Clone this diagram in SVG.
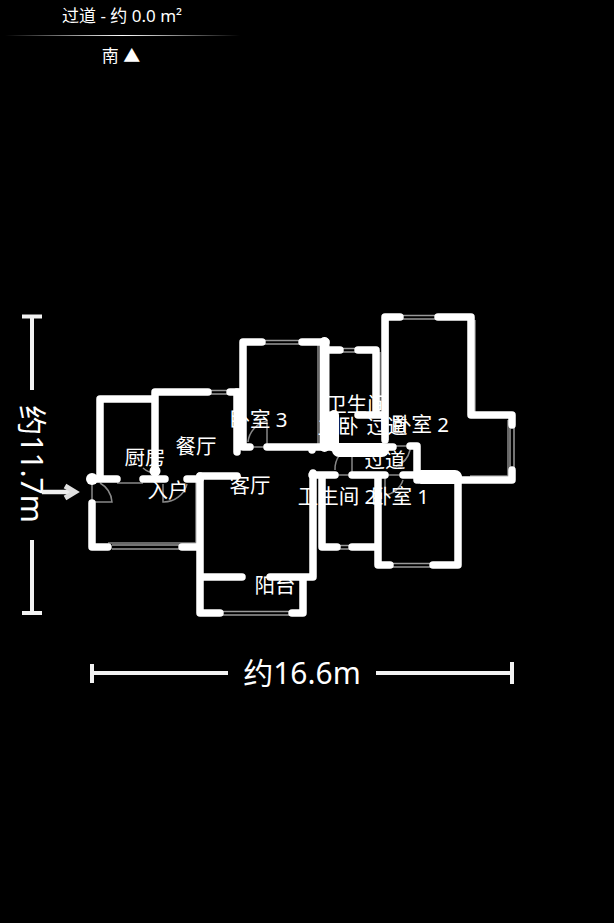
<svg xmlns="http://www.w3.org/2000/svg" width="614" height="923" viewBox="0 0 614 923">
<style>
text{font-family:"Noto Sans","Noto Sans CJK SC","Liberation Sans",sans-serif;fill:#fff;text-anchor:middle}
.l{font-size:20.500px}
.w{fill:none;stroke:#fff;stroke-width:7.500;stroke-linecap:round;stroke-linejoin:round}
.m{fill:none;stroke:#fff;stroke-width:10;stroke-linecap:round;stroke-linejoin:round}
.t{fill:none;stroke:#fff;stroke-width:14;stroke-linecap:round;stroke-linejoin:round}
.g{fill:none;stroke:#888;stroke-width:1.5}
.win{fill:none;stroke:#999;stroke-width:1.5}
.d{fill:none;stroke:#f2f2f2;stroke-width:4}
</style>
<defs>
<linearGradient id="fade"><stop offset="0" stop-color="#fff" stop-opacity="0"/><stop offset="0.5" stop-color="#fff"/><stop offset="1" stop-color="#fff" stop-opacity="0"/></linearGradient>
</defs>
<rect width="614" height="923" fill="#000"/>
<g id="header">
<text x="122" y="22" font-size="17">过道 - 约 0.0 m²</text>
<rect x="5" y="35" width="235" height="1" fill="url(#fade)"/>
<text x="121" y="62" font-size="17">南 ▲</text>
</g>
<g id="thin-lines">
<path class="g" d="M92 479V503M92 502H112A24 24 0 0 0 100 483M117 483H143M143 468A20 20 0 0 0 155 473M163 484V502A24 24 0 0 0 187 484M196 480V547M108 543H197"/>
<path class="g" d="M250 447H267M267 447V421A24 24 0 0 0 248 442M318 345V447"/>
<path class="g" d="M335 475H352M352 475V446A24 24 0 0 0 335 470M395 446H410M410 446V450A22 22 0 0 1 396 466M385 475H403M385 475V495A22 22 0 0 0 403 480M380 352V415M388 320V440M475 320V412M508 420V476M470 476H510"/>
</g>
<g id="windows">
<path class="win" d="M112 545H182M112 549H182M208 390.500H230M208 394H230M262 340.500H302M262 344H302M340 348.500H358M340 352H358M400 315.500H438M400 319H438M510 425V470M514 425V470M337 545.500H352M337 549H352M390 563.500H433M390 567H433M220 611.500H292M220 615H292"/>
</g>
<g id="walls">
<path class="w" d="M155 472V392H208M230 392H240M100 479V399H155M92 479H117M143 479H165M92 503V547H108M182 547H197M200 476V613H220M292 613H303V577M203 577H242M270 577H313V473"/>
<path class="w" d="M187 479H200M200 476H237M237 392V452M243 447V342H262M302 342H326M243 447H250M267 447H335M312 447V450M326 350H340M358 350H376V415M358 415H385M385 440V317H400"/>
<path class="m" d="M324.500 342V447M334 415V447"/>
<path class="w" d="M438 317H471V415H512V425M512 470V480H460M417 446V480M410 446H417M403 475H417M335 447H393"/>
<path class="w" d="M312 475H335M352 475H385M322 475V547H337M352 547H378M378 475V565H390M433 565H458V477"/>
<path class="t" d="M339 450H382M421 477H455"/>
<circle cx="92" cy="479" r="6" fill="#fff"/>
<circle cx="155" cy="471" r="5.500" fill="#fff"/>
</g>
<g id="labels">
<text class="l" x="145" y="465">厨房</text>
<text class="l" x="196" y="454">餐厅</text>
<text class="l" x="168" y="498">入户</text>
<text class="l" x="250" y="493">客厅</text>
<text class="l" x="275" y="593">阳台</text>
<text class="l" x="258.500" y="427">卧室 3</text>
<text class="l" x="357" y="412">卫生间</text>
<text class="l" x="338" y="434">主卧</text>
<text class="l" x="387" y="434">过道</text>
<text class="l" x="420" y="432">卧室 2</text>
<text class="l" x="385" y="468">过道</text>
<text class="l" x="337" y="504">卫生间 2</text>
<text class="l" x="400" y="504">卧室 1</text>
</g>
<g id="dimensions">
<path class="d" d="M92 664V683M92 673H228M376 673H512M512 662V684"/>
<text x="302" y="684" font-size="30">约16.6m</text>
<path class="d" d="M22 316.500H42M32 317V390M32 540V613M22 613H42"/>
<text transform="translate(21 464) rotate(90)" font-size="30">约11.7m</text>
</g>
<g id="entry-arrow">
<path d="M42 492H72" stroke="#f0f0f0" stroke-width="4.500" fill="none"/>
<path d="M65 486L75 492L65 498" stroke="#e0e0e0" stroke-width="5" fill="none"/>
</g>
</svg>
